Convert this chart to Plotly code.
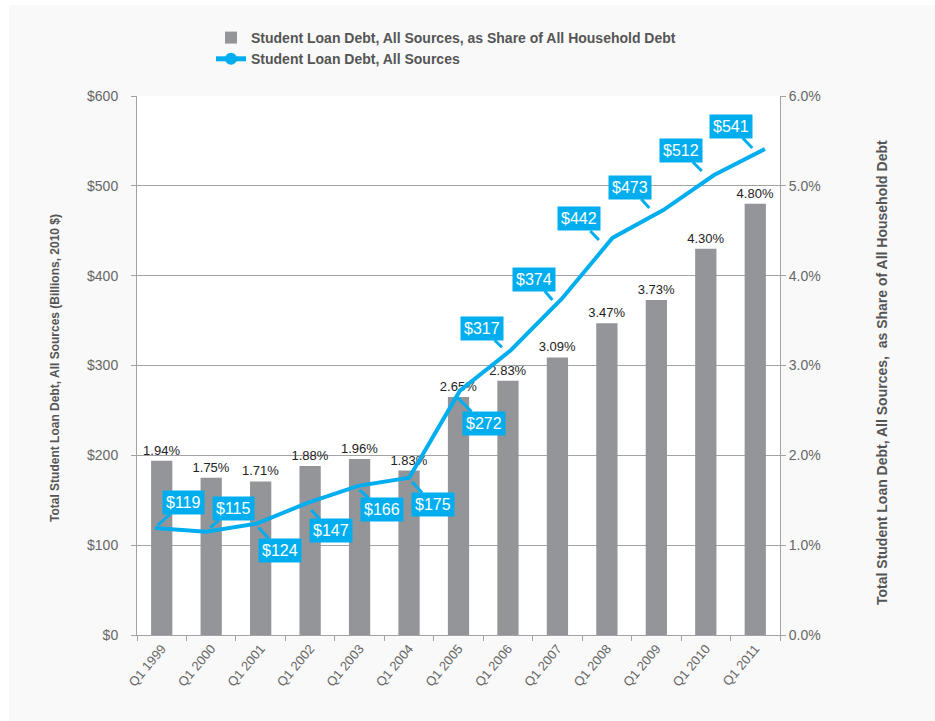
import plotly.graph_objects as go

categories = ["Q1 1999", "Q1 2000", "Q1 2001", "Q1 2002", "Q1 2003", "Q1 2004", "Q1 2005",
              "Q1 2006", "Q1 2007", "Q1 2008", "Q1 2009", "Q1 2010", "Q1 2011"]
share_pct = [1.94, 1.75, 1.71, 1.88, 1.96, 1.83, 2.65, 2.83, 3.09, 3.47, 3.73, 4.30, 4.80]
debt_bn = [119, 115, 124, 147, 166, 175, 272, 317, 374, 442, 473, 512, 541]

bar_name = "Student Loan Debt, All Sources, as Share of All Household Debt"
line_name = "Student Loan Debt, All Sources"
left_title = "Total Student Loan Debt, All Sources (Billions, 2010 $)"
right_title = "Total Student Loan Debt, All Sources,&nbsp; as Share of All Household Debt"

# callout placement (style only): (xshift, yshift, ax, ay) in pixels
callout_style = [(-4, 3, 26, -23), (-1, 4, 23, -19), (-2, -4, 21, 23), (1, -7, 20, 21),
                 (0, -4, 22, 20), (3, -4, 21, 23), (-1, -7, 26, 26),
                 (-6, 3, -20, -19), (-5, -1, -18, -21), (-8, -2, -20, -21),
                 (-7, 2, -19, -21), (-4, 4, -21, -21), (-3, 1, -21, -22)]

BLUE = "#00aeef"
GREY_BAR = "#939598"
AX = "#a3a3a3"
FONT = "Liberation Sans, Arial, sans-serif"

W, H = 935, 721
L, R, T, B = 137, 155, 96, 86
pw, ph = W - L - R, H - T - B

fig = go.Figure()
fig.add_trace(go.Bar(
    x=categories, y=share_pct, name=f"<b>{bar_name}</b>", xaxis="x", yaxis="y",
    marker=dict(color=GREY_BAR, line=dict(width=0)),
    width=0.43,
    texttemplate="%{y:.2f}%", textposition="outside", constraintext="none",
    textfont=dict(color="#222222", size=13, family=FONT),
    cliponaxis=False,
))
fig.add_trace(go.Scatter(
    x=categories, y=debt_bn, name=line_name, xaxis="x2", yaxis="y2",
    mode="lines", line=dict(color=BLUE, width=4),
    showlegend=False,
))
fig.add_trace(go.Scatter(
    x=[None], y=[None], name=f"<b>{line_name}</b>", xaxis="x2", yaxis="y2",
    mode="lines+markers", line=dict(color=BLUE, width=4),
    marker=dict(color=BLUE, size=8, symbol="circle"),
))

annotations = []
for c, v, (sx, sy, dx, dy) in zip(categories, debt_bn, callout_style):
    annotations.append(dict(
        x=c, y=v, xref="x", yref="y2", text=f"${v}",
        ax=dx, ay=dy, axref="pixel", ayref="pixel", xshift=sx, yshift=sy,
        showarrow=True, arrowhead=0, arrowwidth=3, arrowcolor=BLUE, standoff=0,
        bgcolor=BLUE, borderpad=3, font=dict(color="white", size=16, family=FONT),
    ))

def px_x(p):
    return (p - L) / pw

def px_y(p):
    return (H - B - p) / ph

annotations.append(dict(
    x=px_x(55), y=px_y(368), xref="paper", yref="paper", text=f"<b>{left_title}</b>",
    showarrow=False, textangle=-90, font=dict(color="#555555", size=12, family=FONT),
    xanchor="center", yanchor="middle"))
annotations.append(dict(
    x=px_x(882), y=px_y(373), xref="paper", yref="paper", text=f"<b>{right_title}</b>",
    showarrow=False, textangle=-90, font=dict(color="#555555", size=14, family=FONT),
    xanchor="center", yanchor="middle"))

shapes = [
    dict(type="rect", xref="paper", yref="paper", x0=px_x(0), x1=px_x(W), y0=px_y(0), y1=px_y(5),
         fillcolor="white", line=dict(width=0), layer="below"),
    dict(type="rect", xref="paper", yref="paper", x0=px_x(0), x1=px_x(9), y0=px_y(0), y1=px_y(H),
         fillcolor="white", line=dict(width=0), layer="below"),
]

fig.update_layout(
    width=W, height=H,
    margin=dict(l=L, r=R, t=T, b=B, autoexpand=False),
    paper_bgcolor="#f9f9f9", plot_bgcolor="white",
    font=dict(family=FONT, color="#666666", size=14),
    xaxis=dict(
        type="category", showline=True, linecolor=AX, linewidth=1,
        ticks="outside", tickson="boundaries", ticklen=5, tickcolor=AX,
        tickangle=-50, tickfont=dict(size=13, color="#666666"),
        showgrid=False, range=[-0.5, 12.5],
    ),
    xaxis2=dict(
        type="category", overlaying="x", visible=False, range=[-0.354, 12.296],
    ),
    yaxis=dict(
        side="right", range=[0, 6], dtick=1, tickformat=".1f", ticksuffix="%",
        showline=True, linecolor=AX, linewidth=1, ticks="outside", ticklen=5, tickcolor=AX,
        showgrid=False, zeroline=False, tickfont=dict(size=14, color="#666666"),
    ),
    yaxis2=dict(
        overlaying="y", side="left", range=[0, 600], dtick=100, tickprefix="$",
        showline=True, linecolor=AX, linewidth=1, ticks="outside", ticklen=5, tickcolor=AX,
        showgrid=True, gridcolor=AX, gridwidth=1, zeroline=False, ticklabelstandoff=10,
        tickfont=dict(size=14, color="#666666"),
    ),
    legend=dict(
        x=px_x(211), y=px_y(22), xanchor="left", yanchor="top",
        bgcolor="rgba(0,0,0,0)", font=dict(size=14, color="#555555", family=FONT),
        traceorder="normal", tracegroupgap=0, itemsizing="constant",
    ),
    annotations=annotations,
    shapes=shapes,
    showlegend=True,
)

fig.write_html("out.html")
